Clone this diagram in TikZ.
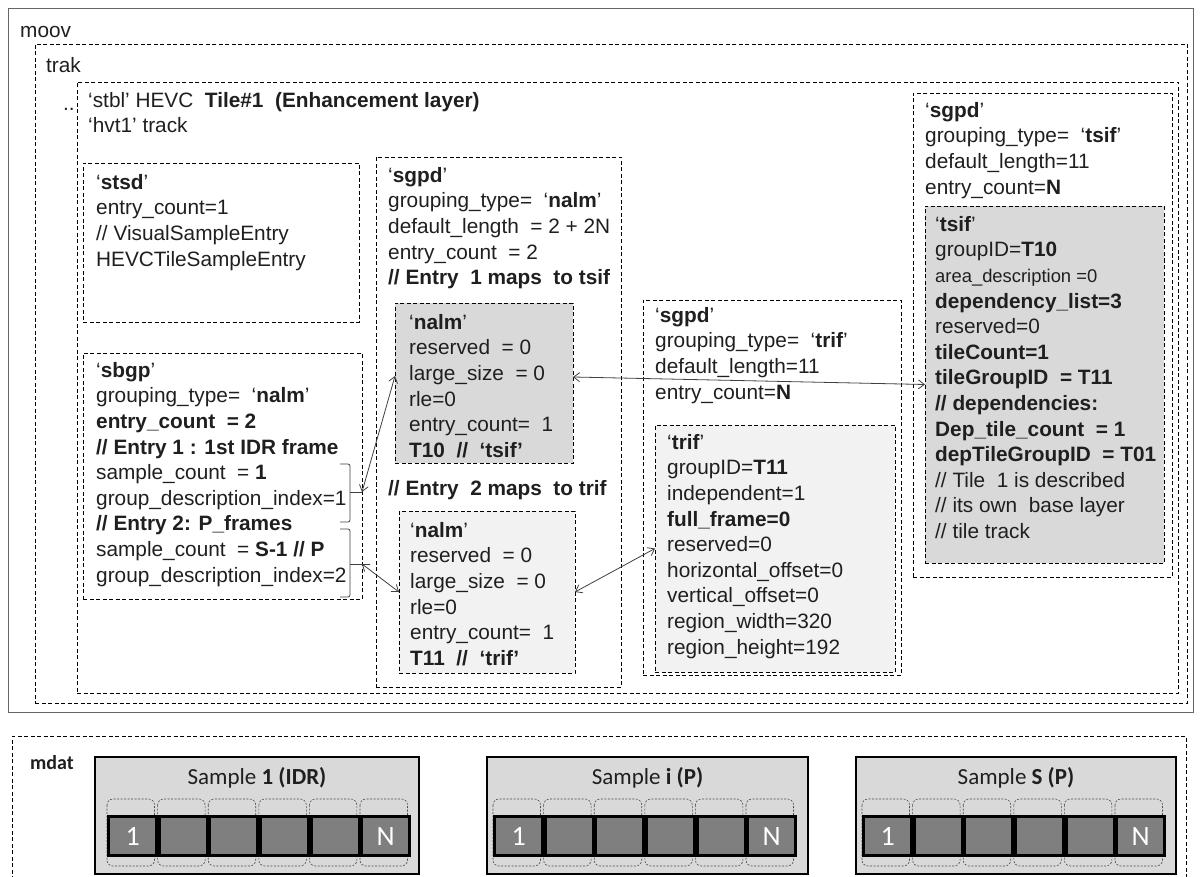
\documentclass[tikz,border=0pt]{standalone}
\usepackage{fontspec}
\setmainfont{Liberation Sans}
\newfontfamily\calibri{Carlito}
\usetikzlibrary{arrows.meta}
\definecolor{dk}{HTML}{D9D9D9}
\definecolor{lt}{HTML}{F2F2F2}
\definecolor{cellg}{HTML}{7F7F7F}
\definecolor{txt}{HTML}{1F1F1F}
\tikzset{
  dbox/.style={draw=black, dash pattern=on 4pt off 2.5pt, line width=0.9pt, anchor=north west, inner sep=0pt, outer sep=0pt},
  tb/.style={anchor=north west, inner sep=0pt, align=left, font=\fontsize{20.8}{25.6}\selectfont, text=txt, execute at begin node=\strut},
  link/.style={{Straight Barb[length=6pt,width=9pt]}-{Straight Barb[length=6pt,width=9pt]}, draw=black!75, line width=0.8pt},
  brk/.style={draw=black!75, line width=0.8pt, rounded corners=2pt},
  samp/.style={draw=black, line width=2.5pt, fill=dk, anchor=north west, inner sep=0pt, outer sep=0pt},
  tilebox/.style={draw=black!70, dash pattern=on 2pt off 1.5pt, line width=0.6pt, rounded corners=6pt},
  cellbox/.style={fill=cellg, anchor=north west, minimum width=45pt, minimum height=36pt, inner sep=0pt, font=\calibri\fontsize{28}{30}\selectfont, text=white},
}
\begin{document}
\begin{tikzpicture}[x=1pt,y=-1pt]
\useasboundingbox (0,0) rectangle (1202,877);
% boxes
\node[draw=black!60, line width=1.2pt, anchor=north west, minimum width=1185pt, minimum height=704pt, inner sep=0pt] (moov) at (8,8) {};
\node[dbox, minimum width=1152pt, minimum height=659pt] (trak) at (35,44) {};
\node[dbox, minimum width=1101pt, minimum height=611pt] (stbl) at (77,82) {};
\node[dbox, minimum width=276pt, minimum height=159pt] (stsd) at (83,163) {};
\node[dbox, minimum width=279pt, minimum height=246pt] (sbgp) at (83,353) {};
\node[dbox, minimum width=245pt, minimum height=530pt] (sgpdN) at (376,157) {};
\node[dbox, fill=dk, minimum width=178pt, minimum height=160pt] (nalmA) at (395,303) {};
\node[dbox, fill=lt, minimum width=176pt, minimum height=162pt] (nalmB) at (399,511) {};
\node[dbox, minimum width=258pt, minimum height=375pt] (sgpdT) at (643,300) {};
\node[dbox, fill=lt, minimum width=240pt, minimum height=247pt] (trif) at (655,425) {};
\node[dbox, minimum width=259pt, minimum height=484pt] (sgpdS) at (913,93) {};
\node[dbox, fill=dk, minimum width=239pt, minimum height=357pt] (tsif) at (925,206) {};
% texts
\node[tb] (tmoov) at (20,19) {moov};
\node[tb] (ttrak) at (46,54) {trak};
\node[tb] (tdots) at (63,92) {..};
\node[tb] (tstbl) at (88,92) {‘stbl’ HEVC~ \textbf{Tile\#1~ (Enhancement layer)}\\ ‘hvt1’ track};
\node[tb] (tstsd) at (96,174) {‘\textbf{stsd}’\\entry\_count=1\\// VisualSampleEntry\\HEVCTileSampleEntry};
\node[tb] (tsbgp) at (96,362) {‘\textbf{sbgp}’\\grouping\_type=~ ‘\textbf{nalm}’\\\textbf{entry\_count~ = 2}\\\textbf{// Entry 1 : 1st IDR frame}\\sample\_count~ = \textbf{1}\\group\_description\_index=1\\\textbf{// Entry 2: P\_frames}\\sample\_count~ = \textbf{S-1 // P}\\group\_description\_index=2};
\node[tb] (tsgpdN) at (388,167) {‘\textbf{sgpd}’\\grouping\_type=~ ‘\textbf{nalm}’\\default\_length~ = 2 + 2N\\entry\_count~ = 2\\\textbf{// Entry~ 1 maps~ to tsif}};
\node[tb] (tnalmA) at (409,314) {‘\textbf{nalm}’\\reserved~ = 0\\large\_size~ = 0\\rle=0\\entry\_count=~ 1\\\textbf{T10~ //~ ‘tsif’}};
\node[tb] (tentry2) at (388,477) {\textbf{// Entry~ 2 maps~ to trif}};
\node[tb] (tnalmB) at (410,522) {‘\textbf{nalm}’\\reserved~ = 0\\large\_size~ = 0\\rle=0\\entry\_count=~ 1\\\textbf{T11~ //~ ‘trif’}};
\node[tb] (tsgpdT) at (655,307) {‘\textbf{sgpd}’\\grouping\_type=~ ‘\textbf{trif}’\\default\_length=11\\entry\_count=\textbf{N}};
\node[tb] (ttrif) at (667,434) {‘\textbf{trif}’\\groupID=\textbf{T11}\\independent=1\\\textbf{full\_frame=0}\\reserved=0\\horizontal\_offset=0\\vertical\_offset=0\\region\_width=320\\region\_height=192};
\node[tb] (tsgpdS) at (925,102) {‘\textbf{sgpd}’\\grouping\_type=~ ‘\textbf{tsif}’\\default\_length=11\\entry\_count=\textbf{N}};
\node[tb] (ttsif) at (935,216) {‘\textbf{tsif}’\\groupID=\textbf{T10}\\{\fontsize{18.4}{25.6}\selectfont area\_description =0}\\\textbf{dependency\_list=3}\\reserved=0\\\textbf{tileCount=1}\\\textbf{tileGroupID~ = T11}\\\textbf{// dependencies:}\\\textbf{Dep\_tile\_count~ = 1}\\\textbf{depTileGroupID~ = T01}\\// Tile~ 1 is described\\// its own~ base layer\\// tile track};
% brackets
\coordinate (b1) at (362,492);
\coordinate (b2) at (362,564);
\draw[brk] (340,464) -| (350,522) -- (340,522);
\draw[brk] (350,492) -- (b1);
\draw[brk] (340,529) -| (350,597) -- (340,597);
\draw[brk] (350,564) -- (b2);
% connectors
\draw[link] (b1) -- ([yshift=7pt]nalmA.west);
\draw[link] (b2) -- (nalmB.west);
\draw[link] ([yshift=6pt]nalmA.east) -- (tsif.west);
\draw[link] (nalmB.east) -- (trif.west);
% mdat
\draw[dash pattern=on 4pt off 2.5pt, line width=0.9pt] (12,880) |- (1186,736) -- (1186,880);
\node[anchor=base west, inner sep=0pt, font=\calibri\bfseries\fontsize{20}{24}\selectfont, text=txt] (tmdat) at (30,769) {mdat};
\foreach \bx/\bw/\rx/\nm/\lab in {95/324/107/s1/{Sample \textbf{1 (IDR)}}, 487/321/493/si/{Sample \textbf{i (P)}}, 856/320/862/sS/{Sample \textbf{S (P)}}} {
  \node[samp, minimum width=\bw pt, minimum height=117pt] (\nm) at (\bx,757) {};
  \node[font=\calibri\fontsize{23}{26}\selectfont, text=txt, inner sep=0pt] (\nm-lab) at (\bx+\bw/2,778) {\lab};
  \foreach \i in {0,...,5} {
    \draw[tilebox] (\rx+\i*50.6,799) rectangle (\rx+\i*50.6+47.5,866);
  }
  \node[fill=black, anchor=north west, minimum width=304pt, minimum height=42pt, inner sep=0pt] (\nm-row) at (\rx,815) {};
  \foreach \i/\t in {0/1,1/,2/,3/,4/,5/N} {
    \node[cellbox] (\nm-c\i) at (\rx+3+\i*50.6,818) {\t};
  }
}
\end{tikzpicture}
\end{document}
